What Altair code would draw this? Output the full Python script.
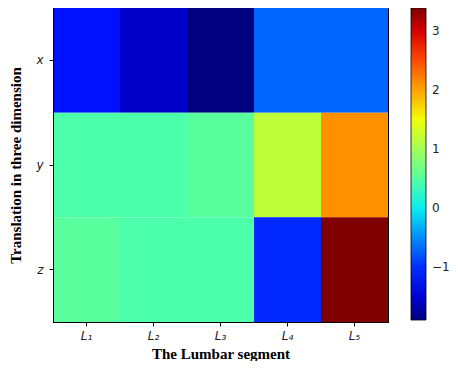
import altair as alt
import pandas as pd

segments = ["L₁", "L₂", "L₃", "L₄", "L₅"]
dims = ["x", "y", "z"]
x_vals = [-1.15, -1.57, -1.90, -0.72, -0.72]
y_vals = [0.44, 0.44, 0.53, 1.17, 2.10]
z_vals = [0.53, 0.44, 0.44, -1.03, 3.39]

rows = []
for d, vals in zip(dims, [x_vals, y_vals, z_vals]):
    for s, v in zip(segments, vals):
        rows.append({"seg": s, "dim": d, "val": v})
df = pd.DataFrame(rows)

vmin, vmax = -1.9, 3.39
# matplotlib 'jet' segment data
red = [(0, 0), (0.35, 0), (0.66, 1), (0.89, 1), (1, 0.5)]
green = [(0, 0), (0.125, 0), (0.375, 1), (0.64, 1), (0.91, 0), (1, 0)]
blue = [(0, 0.5), (0.11, 1), (0.34, 1), (0.65, 0), (1, 0)]


def interp(pts, t):
    for (t0, v0), (t1, v1) in zip(pts[:-1], pts[1:]):
        if t0 <= t <= t1:
            return v0 + (v1 - v0) * (t - t0) / (t1 - t0) if t1 > t0 else v1
    return pts[-1][1]


stops = sorted(set([p[0] for p in red + green + blue]))
dom = [vmin + t * (vmax - vmin) for t in stops]
rng = []
for t in stops:
    r, g, b = interp(red, t), interp(green, t), interp(blue, t)
    rng.append("#%02x%02x%02x" % (round(r * 255), round(g * 255), round(b * 255)))

jet = alt.Scale(domain=dom, range=rng, interpolate="rgb")

chart = alt.Chart(df).mark_rect().encode(
    x=alt.X("seg:O", sort=segments,
            scale=alt.Scale(paddingInner=0, paddingOuter=0),
            axis=alt.Axis(title="The Lumbar segment", labelAngle=0,
                          labelFont="DejaVu Sans", labelFontStyle="italic",
                          labelFontSize=12, labelColor="#222",
                          titleFont="Liberation Serif", titleFontSize=15,
                          titleFontWeight="bold", titleColor="black",
                          tickColor="black", domainColor="black", tickSize=4,
                          labelPadding=4, titlePadding=5)),
    y=alt.Y("dim:O", sort=dims,
            scale=alt.Scale(paddingInner=0, paddingOuter=0),
            axis=alt.Axis(title="Translation in three dimension",
                          labelFont="DejaVu Sans", labelFontStyle="italic",
                          labelFontSize=12, labelColor="#222",
                          titleFont="Liberation Serif", titleFontSize=15,
                          titleFontWeight="bold", titleColor="black",
                          tickColor="black", domainColor="black", tickSize=4,
                          labelPadding=6, titlePadding=12)),
    color=alt.Color("val:Q", scale=jet,
                    legend=alt.Legend(title=None, gradientLength=312,
                                      gradientThickness=15, values=[-1, 0, 1, 2, 3],
                                      labelFont="DejaVu Sans", labelFontSize=12,
                                      labelColor="#222", gradientStrokeColor="black",
                                      gradientStrokeWidth=0.8, offset=23,
                                      labelOffset=6, direction="vertical",
                                      padding=0)),
).properties(
    width=442, height=353,
    autosize=alt.AutoSizeParams(type="fit", contains="padding"),
    padding={"left": 0, "top": 0, "right": 0, "bottom": 0},
).configure_view(stroke="black", strokeWidth=1)

chart.save("out.html", embed_options={"renderer": "svg", "actions": False})
